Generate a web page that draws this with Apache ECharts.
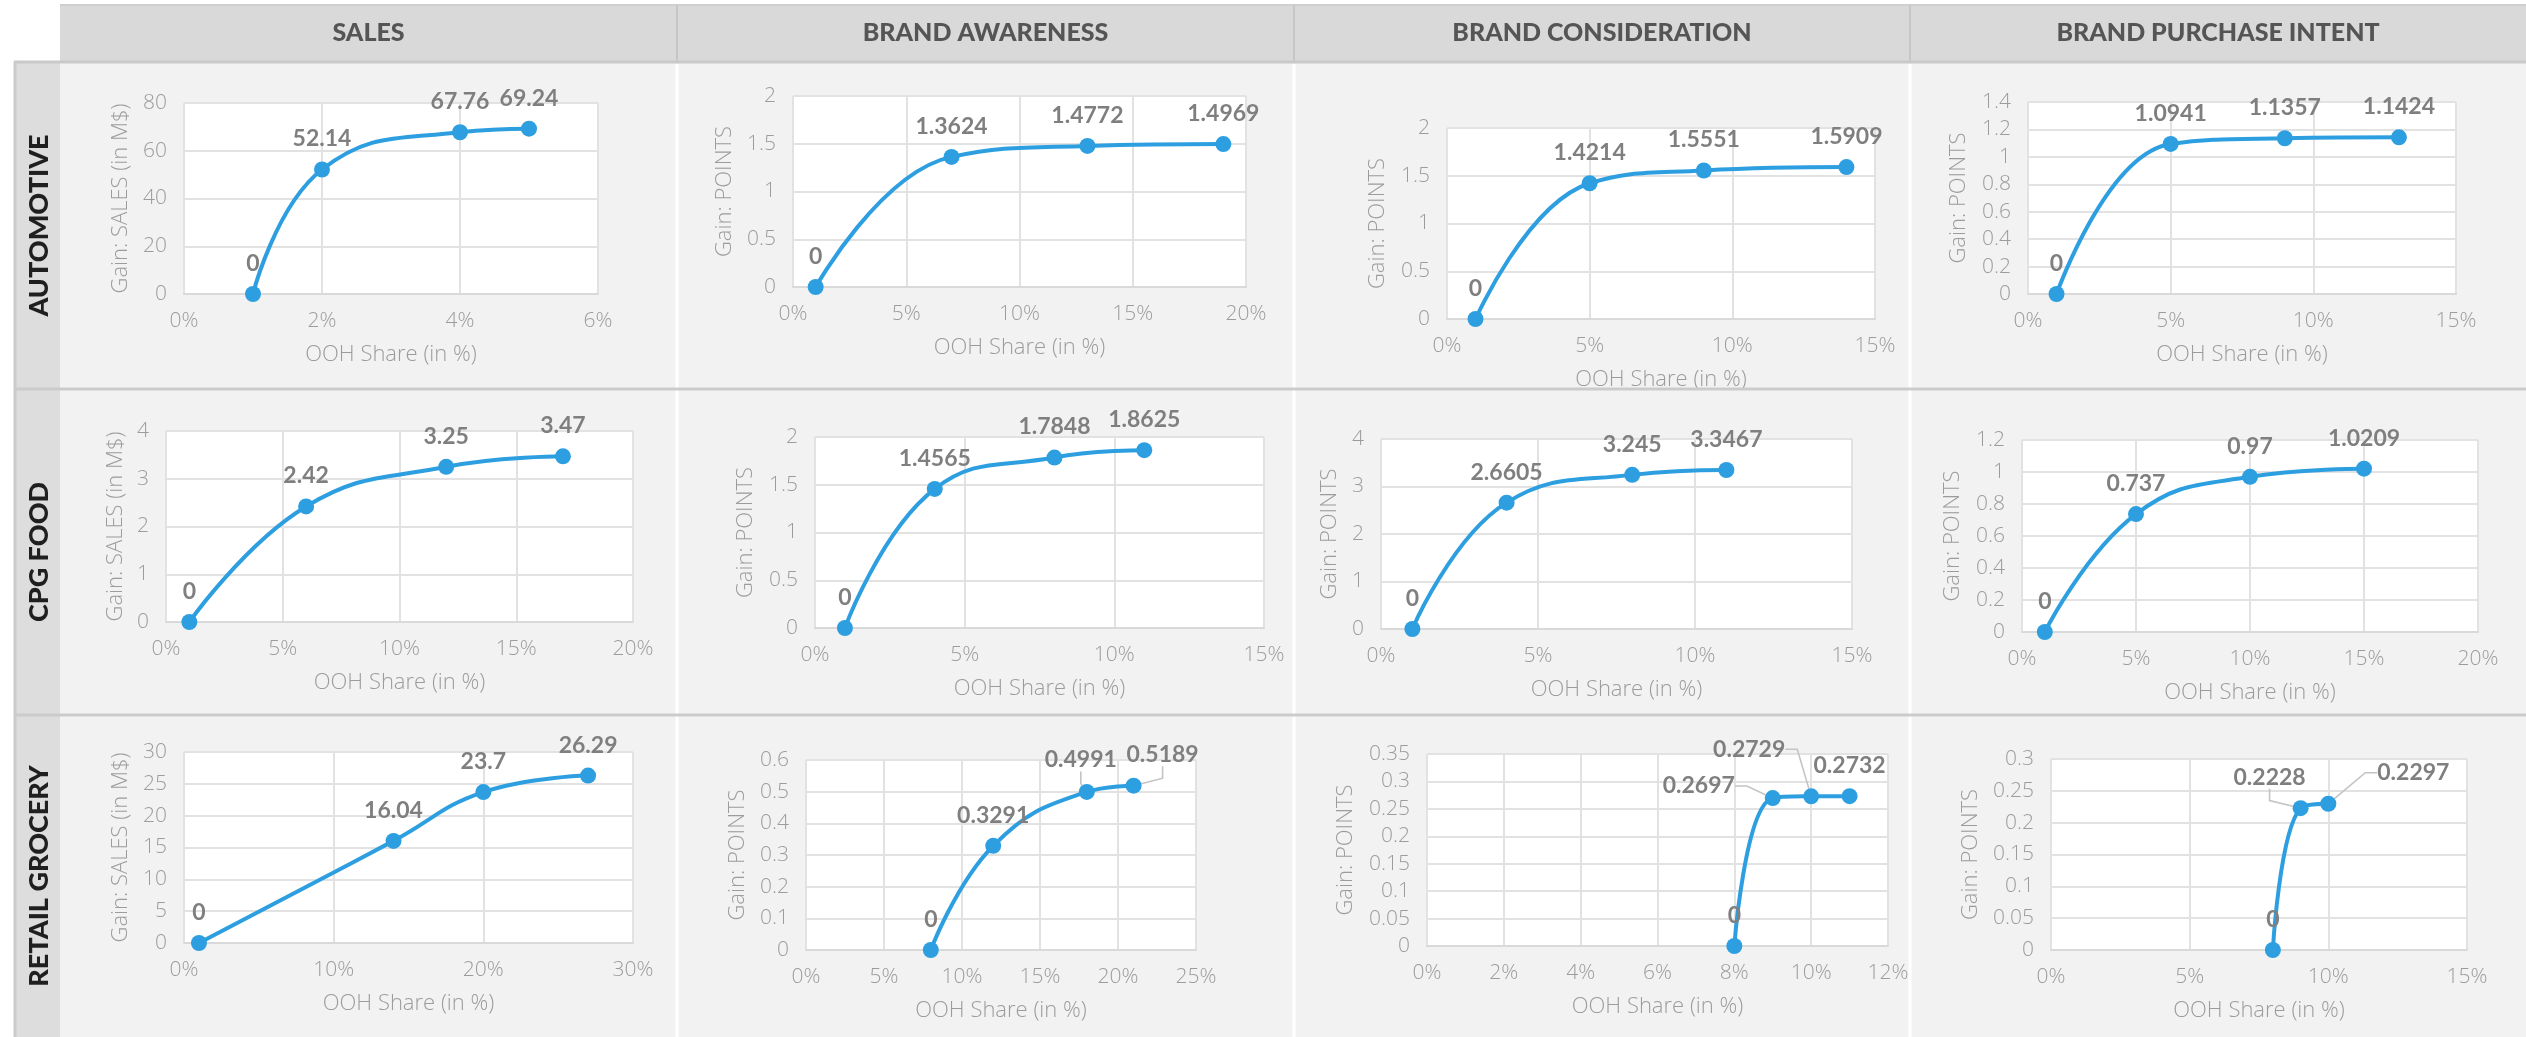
<!DOCTYPE html>
<html><head><meta charset="utf-8">
<script src="https://cdn.jsdelivr.net/npm/echarts@6/dist/echarts.min.js"></script>
<style>html,body{margin:0;padding:0;background:#fff;overflow:hidden}#c{width:2526px;height:1037px;}</style>
</head><body><div id="c"></div>
<script>
// ---------- text ----------
const columnTitles = ['SALES', 'BRAND AWARENESS', 'BRAND CONSIDERATION', 'BRAND PURCHASE INTENT'];
const rowTitles = ['AUTOMOTIVE', 'CPG FOOD', 'RETAIL GROCERY'];
const xAxisTitle = 'OOH Share (in %)';
const yTitleSales = 'Gain: SALES (in M$)';
const yTitlePoints = 'Gain: POINTS';

// ---------- data: OOH share (%) and gain ----------
const autoSalesX = [1, 2, 4, 5];      const autoSalesY = [0, 52.14, 67.76, 69.24];
const autoAwareX = [1, 7, 13, 19];    const autoAwareY = [0, 1.3624, 1.4772, 1.4969];
const autoConsX  = [1, 5, 9, 14];     const autoConsY  = [0, 1.4214, 1.5551, 1.5909];
const autoPurchX = [1, 5, 9, 13];     const autoPurchY = [0, 1.0941, 1.1357, 1.1424];
const cpgSalesX  = [1, 6, 12, 17];    const cpgSalesY  = [0, 2.42, 3.25, 3.47];
const cpgAwareX  = [1, 4, 8, 11];     const cpgAwareY  = [0, 1.4565, 1.7848, 1.8625];
const cpgConsX   = [1, 4, 8, 11];     const cpgConsY   = [0, 2.6605, 3.245, 3.3467];
const cpgPurchX  = [1, 5, 10, 15];    const cpgPurchY  = [0, 0.737, 0.97, 1.0209];
const retSalesX  = [1, 14, 20, 27];   const retSalesY  = [0, 16.04, 23.7, 26.29];
const retAwareX  = [8, 12, 18, 21];   const retAwareY  = [0, 0.3291, 0.4991, 0.5189];
const retConsX   = [8, 9, 10, 11];    const retConsY   = [0, 0.2697, 0.2729, 0.2732];
const retPurchX  = [8, 9, 10];        const retPurchY  = [0, 0.2228, 0.2297];

// ---------- axis scales [min, max, interval] ----------
const autoSalesXAxis = [0, 6, 2];   const autoSalesYAxis = [0, 80, 20];
const autoAwareXAxis = [0, 20, 5];  const autoAwareYAxis = [0, 2, 0.5];
const autoConsXAxis  = [0, 15, 5];  const autoConsYAxis  = [0, 2, 0.5];
const autoPurchXAxis = [0, 15, 5];  const autoPurchYAxis = [0, 1.4, 0.2];
const cpgSalesXAxis  = [0, 20, 5];  const cpgSalesYAxis  = [0, 4, 1];
const cpgAwareXAxis  = [0, 15, 5];  const cpgAwareYAxis  = [0, 2, 0.5];
const cpgConsXAxis   = [0, 15, 5];  const cpgConsYAxis   = [0, 4, 1];
const cpgPurchXAxis  = [0, 20, 5];  const cpgPurchYAxis  = [0, 1.2, 0.2];
const retSalesXAxis  = [0, 30, 10]; const retSalesYAxis  = [0, 30, 5];
const retAwareXAxis  = [0, 25, 5];  const retAwareYAxis  = [0, 0.6, 0.1];
const retConsXAxis   = [0, 12, 2];  const retConsYAxis   = [0, 0.35, 0.05];
const retPurchXAxis  = [0, 15, 5];  const retPurchYAxis  = [0, 0.3, 0.05];

// ---------- layout / style (pixels) ----------
const panels = [
  { x: autoSalesX, y: autoSalesY, xa: autoSalesXAxis, ya: autoSalesYAxis, yName: yTitleSales,  g: [184, 103, 414, 191], ng: 52 },
  { x: autoAwareX, y: autoAwareY, xa: autoAwareXAxis, ya: autoAwareYAxis, yName: yTitlePoints, g: [793, 96, 453, 191],  ng: 57 },
  { x: autoConsX,  y: autoConsY,  xa: autoConsXAxis,  ya: autoConsYAxis,  yName: yTitlePoints, g: [1447, 128, 428, 191], ng: 58 },
  { x: autoPurchX, y: autoPurchY, xa: autoPurchXAxis, ya: autoPurchYAxis, yName: yTitlePoints, g: [2028, 102, 428, 192], ng: 58 },
  { x: cpgSalesX,  y: cpgSalesY,  xa: cpgSalesXAxis,  ya: cpgSalesYAxis,  yName: yTitleSales,  g: [166, 431, 467, 191], ng: 39 },
  { x: cpgAwareX,  y: cpgAwareY,  xa: cpgAwareXAxis,  ya: cpgAwareYAxis,  yName: yTitlePoints, g: [815, 437, 449, 191], ng: 58 },
  { x: cpgConsX,   y: cpgConsY,   xa: cpgConsXAxis,   ya: cpgConsYAxis,   yName: yTitlePoints, g: [1381, 439, 471, 190], ng: 40 },
  { x: cpgPurchX,  y: cpgPurchY,  xa: cpgPurchXAxis,  ya: cpgPurchYAxis,  yName: yTitlePoints, g: [2022, 440, 456, 192], ng: 58 },
  { x: retSalesX,  y: retSalesY,  xa: retSalesXAxis,  ya: retSalesYAxis,  yName: yTitleSales,  g: [184, 752, 449, 191], ng: 52 },
  { x: retAwareX,  y: retAwareY,  xa: retAwareXAxis,  ya: retAwareYAxis,  yName: yTitlePoints, g: [806, 760, 390, 190], ng: 57,
    off: { 2: [-6, -32], 3: [29, -31] } },
  { x: retConsX,   y: retConsY,   xa: retConsXAxis,   ya: retConsYAxis,   yName: yTitlePoints, g: [1427, 754, 461, 192], ng: 70,
    off: { 1: [-74, -12], 2: [-62, -47] } },
  { x: retPurchX,  y: retPurchY,  xa: retPurchXAxis,  ya: retPurchYAxis,  yName: yTitlePoints, g: [2051, 759, 416, 191], ng: 69,
    off: { 1: [-31, -31], 2: [85, -31] } }
];

const BLUE = '#2d9fe0';
const AX_GRAY = '#9c9c9c';
const LIGHT_FONT = "'Open Sans', Lato, sans-serif";
const BOLD_FONT = "Lato, 'Open Sans', sans-serif";
const colEdges = [60, 677, 1294, 1910, 2526];
const rowEdges = [62, 389, 715, 1037];

const grids = [], xAxes = [], yAxes = [], series = [];
panels.forEach((p, i) => {
  grids.push({ left: p.g[0], top: p.g[1], width: p.g[2], height: p.g[3], show: true,
    backgroundColor: '#ffffff', borderWidth: 0, containLabel: false, outerBoundsMode: 'none' });
  xAxes.push({ type: 'value', gridIndex: i, min: p.xa[0], max: p.xa[1], interval: p.xa[2],
    name: xAxisTitle, nameLocation: 'middle', nameGap: 50,
    nameTextStyle: { color: AX_GRAY, fontSize: 22, fontFamily: LIGHT_FONT, fontWeight: 300 },
    axisLine: { show: true, lineStyle: { color: '#d9d9d9', width: 2 } },
    axisTick: { show: false },
    axisLabel: { color: AX_GRAY, fontSize: 21, fontFamily: LIGHT_FONT, fontWeight: 300, margin: 17,
      showMinLabel: true, showMaxLabel: true, hideOverlap: false, formatter: v => v + '%' },
    splitLine: { show: true, lineStyle: { color: '#e2e2e2', width: 2 } } });
  yAxes.push({ type: 'value', gridIndex: i, min: p.ya[0], max: p.ya[1], interval: p.ya[2],
    name: p.yName, nameLocation: 'middle', nameGap: p.ng,
    nameTextStyle: { color: AX_GRAY, fontSize: 22, fontFamily: LIGHT_FONT, fontWeight: 300 },
    axisLine: { show: false }, axisTick: { show: false },
    axisLabel: { color: AX_GRAY, fontSize: 21, fontFamily: LIGHT_FONT, fontWeight: 300, margin: 17,
      showMinLabel: true, showMaxLabel: true, hideOverlap: false },
    splitLine: { show: true, lineStyle: { color: '#e2e2e2', width: 2 } } });
  const off = p.off || {};
  series.push({
    type: 'line', xAxisIndex: i, yAxisIndex: i, smooth: 0.45,
    symbol: 'circle', symbolSize: 16, showAllSymbol: true,
    lineStyle: { color: BLUE, width: 4 },
    itemStyle: { color: BLUE },
    label: { show: true, position: 'top', distance: 11, color: '#7f7f7f', fontSize: 23,
      fontWeight: 'bold', fontFamily: BOLD_FONT, formatter: prm => String(prm.value[1]) },
    labelLine: { show: false, length2: 12, smooth: false, lineStyle: { color: '#c4c4c4', width: 1.6 } },
    labelLayout: function (prm) {
      const o = off[prm.dataIndex];
      if (!o) return {};
      const cx = prm.rect.x + prm.rect.width / 2, cy = prm.rect.y + prm.rect.height / 2;
      return { x: cx + o[0], y: cy + o[1], align: 'center', verticalAlign: 'middle' };
    },
    data: p.x.map((xv, k) => ({ value: [xv, p.y[k]], labelLine: { show: !!off[k] } })),
    z: 5
  });
});

// ---------- table frame ----------
const graphic = [];
graphic.push({ type: 'rect', z: -100, shape: { x: 60, y: 62, width: 2466, height: 975 }, style: { fill: '#f2f2f2' } });
graphic.push({ type: 'rect', z: -100, shape: { x: 60, y: 4, width: 2466, height: 58 }, style: { fill: '#d9d9d9' } });
graphic.push({ type: 'rect', z: -100, shape: { x: 14, y: 62, width: 46, height: 975 }, style: { fill: '#dddddd' } });
graphic.push({ type: 'line', z: -90, shape: { x1: 60, y1: 5, x2: 2526, y2: 5 }, style: { stroke: '#cfcfcf', lineWidth: 2 } });
graphic.push({ type: 'line', z: 50, shape: { x1: 14, y1: 62, x2: 2526, y2: 62 }, style: { stroke: '#c9c9c9', lineWidth: 3 } });
graphic.push({ type: 'line', z: -90, shape: { x1: 15, y1: 62, x2: 15, y2: 1037 }, style: { stroke: '#cbcbcb', lineWidth: 3 } });
for (let c = 1; c < 4; c++) {
  graphic.push({ type: 'line', z: -90, shape: { x1: colEdges[c], y1: 5, x2: colEdges[c], y2: 61 }, style: { stroke: '#c6c6c6', lineWidth: 2 } });
  graphic.push({ type: 'line', z: -90, shape: { x1: colEdges[c], y1: 64, x2: colEdges[c], y2: 1037 }, style: { stroke: '#ffffff', lineWidth: 3 } });
}
for (let r = 1; r < 3; r++) {
  graphic.push({ type: 'line', z: 50, shape: { x1: 14, y1: rowEdges[r], x2: 2526, y2: rowEdges[r] }, style: { stroke: '#cbcbcb', lineWidth: 3 } });
}
columnTitles.forEach((t, c) => {
  graphic.push({ type: 'text', z: 60, x: (colEdges[c] + colEdges[c + 1]) / 2, y: 33,
    style: { text: t, fill: '#555555', fontSize: 25, fontWeight: 900, fontFamily: BOLD_FONT, align: 'center', verticalAlign: 'middle' } });
});
rowTitles.forEach((t, r) => {
  graphic.push({ type: 'text', z: 60, x: 39, y: (rowEdges[r] + rowEdges[r + 1]) / 2, rotation: Math.PI / 2,
    style: { text: t, fill: '#1f1f1f', fontSize: 27, fontWeight: 900, fontFamily: BOLD_FONT, align: 'center', verticalAlign: 'middle' } });
});

const chart = echarts.init(document.getElementById('c'), null, { renderer: 'canvas', width: 2526, height: 1037 });
chart.setOption({
  animation: false,
  backgroundColor: '#ffffff',
  grid: grids, xAxis: xAxes, yAxis: yAxes, series: series,
  graphic: { elements: graphic }
});
</script></body></html>
